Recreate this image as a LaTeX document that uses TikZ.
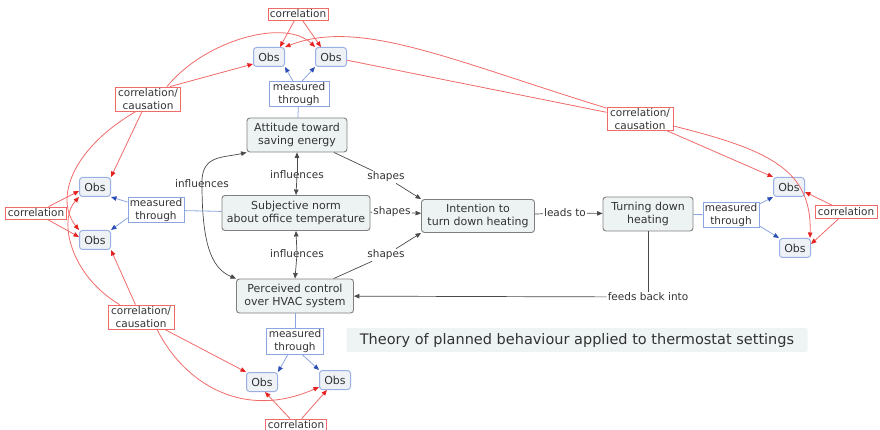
\documentclass[tikz,border=0pt]{standalone}
\usepackage{fontspec}
\setmainfont{DejaVu Sans}
\usetikzlibrary{arrows.meta}
\definecolor{txt}{HTML}{333333}
\definecolor{cfill}{HTML}{EDF3F3}
\definecolor{cdraw}{HTML}{7F7F7F}
\definecolor{ofill}{HTML}{EEF2F7}
\definecolor{odraw}{HTML}{9AB0E2}
\definecolor{rline}{HTML}{F06A6A}
\definecolor{rtip}{HTML}{E52222}
\definecolor{bline}{HTML}{8CA6E0}
\definecolor{btip}{HTML}{2B4FB5}
\definecolor{kline}{HTML}{4A4A4A}
\definecolor{tfill}{HTML}{EEF3F3}
\tikzset{
 sz/.style 2 args={minimum width=#1pt, minimum height=#2pt},
 concept/.style={draw=cdraw, fill=cfill, rounded corners=3pt, line width=0.9pt, text=txt, align=center, inner sep=1pt, font=\fontsize{11}{13.5}\selectfont},
 obs/.style={draw=odraw, fill=ofill, rounded corners=3pt, line width=1pt, text=txt, inner sep=0pt, minimum width=31pt, minimum height=19pt, font=\fontsize{11}{13}\selectfont},
 blink/.style={draw=bline, fill=white, line width=0.8pt, text=txt, align=center, inner sep=0pt, font=\fontsize{10.5}{12.5}\selectfont},
 rlink/.style={draw=rline, fill=white, line width=0.8pt, text=txt, align=center, inner sep=0pt, font=\fontsize{10.5}{12.5}\selectfont},
 lbl/.style={fill=white, text=txt, inner sep=1pt, font=\fontsize{10.5}{12.5}\selectfont},
 olbl/.style={text=txt, inner sep=1pt, font=\fontsize{10.5}{12.5}\selectfont},
 titlebox/.style={fill=tfill, rounded corners=2pt, text=txt, inner sep=0pt, font=\fontsize{14.5}{16}\selectfont},
 kc/.style={draw=kline, line width=0.7pt},
 ka/.style={kc, -{Triangle[length=5.5pt,width=4.5pt]}},
 bc/.style={draw=bline, line width=0.8pt},
 ba/.style={bc, -{Triangle[length=5.5pt,width=4.5pt,color=btip]}},
 rc/.style={draw=rline, line width=0.8pt},
 ra/.style={rc, -{Triangle[length=5.5pt,width=4.5pt,color=rtip]}}
}
\begin{document}
\begin{tikzpicture}[x=1pt,y=-1pt]
\useasboundingbox (0,0) rectangle (880,430);
% concepts
\node[concept, sz={100}{34}] (att) at (297,135) {Attitude toward\\saving energy};
\node[concept, sz={148}{35}] (subj) at (296,213) {Subjective norm\\about office temperature};
\node[concept, sz={117}{34}] (perc) at (295,296) {Perceived control\\over HVAC system};
\node[concept, sz={113}{33}] (int) at (478,216) {Intention to\\turn down heating};
\node[concept, sz={90}{34}] (turn) at (648,214) {Turning down\\heating};
\node[titlebox, sz={461}{24}] (title) at (577,340) {Theory of planned behaviour applied to thermostat settings};
% observations
\node[obs] (oTL) at (269,57) {Obs};
\node[obs] (oTR) at (331,57) {Obs};
\node[obs] (oLU) at (95,187) {Obs};
\node[obs] (oLL) at (95,240) {Obs};
\node[obs] (oRU) at (789,187) {Obs};
\node[obs] (oRL) at (795,248) {Obs};
\node[obs] (oBL) at (262,382) {Obs};
\node[obs] (oBR) at (335,380) {Obs};
% measured through
\node[blink, sz={60}{25}] (mT) at (299,94) {measured\\through};
\node[blink, sz={56}{25}] (mL) at (156,210) {measured\\through};
\node[blink, sz={56}{25}] (mR) at (731,215) {measured\\through};
\node[blink, sz={57}{26}] (mB) at (295,341) {measured\\through};
% correlation
\node[rlink, sz={60}{12}] (cT) at (298,14) {correlation};
\node[rlink, sz={61}{12}] (cL) at (36,213) {correlation};
\node[rlink, sz={62}{13}] (cR) at (846,212) {correlation};
\node[rlink, sz={61}{12}] (cB) at (296,425) {correlation};
\node[rlink, sz={65}{24}] (cc1) at (148,99) {correlation/\\causation};
\node[rlink, sz={66}{23}] (cc2) at (640,119) {correlation/\\causation};
\node[rlink, sz={66}{24}] (cc3) at (141,317) {correlation/\\causation};
% linking phrases
\node[olbl] (i1) at (297,175) {influences};
\node[olbl] (i2) at (297,254) {influences};
\node[olbl] (i3) at (202,184) {influences};
\node[lbl] (s1) at (386,177) {shapes};
\node[lbl] (s2) at (392,212) {shapes};
\node[lbl] (s3) at (386,255) {shapes};
\node[lbl] (lt) at (565,213) {leads to};
\node[lbl] (fb) at (648,297) {feeds back into};
% black connectors
\draw[ka] (i1.center) -- (att.south);
\draw[ka] (i1.center) -- (subj.north);
\draw[ka] (i2.center) -- (subj.south);
\draw[ka] (i2.center) -- (perc.north);
\draw[ka] (i3.center) .. controls (201,155) and (222,158) .. (att.south west);
\draw[ka] (i3.center) .. controls (202,240) and (210,268) .. (perc.north west);
\draw[kc] (att) -- (s1);
\draw[ka] (s1) -- (int.north west);
\draw[kc] (subj) -- (s2);
\draw[ka] (s2) -- (int);
\draw[kc] (perc) -- (s3);
\draw[ka] (s3) -- (int.south west);
\draw[kc] (int) -- (lt);
\draw[ka] (lt) -- (turn);
\draw[kc] (turn) -- (fb);
\draw[ka] (fb) -- (perc);
% blue connectors
\draw[bc] (att) -- (mT);
\draw[ba] ([xshift=-6pt]mT.north) -- (oTL.south east);
\draw[ba] ([xshift=3pt]mT.north) -- (oTR.south west);
\draw[bc] (subj) -- (mL);
\draw[ba] ([yshift=-5pt]mL.north west) -- (oLU.south east);
\draw[ba] ([yshift=5pt]mL.south west) -- (oLL.north east);
\draw[bc] (turn) -- (mR);
\draw[ba] ([yshift=-2pt]mR.north east) -- (oRU.south west);
\draw[ba] ([yshift=2pt]mR.south east) -- (oRL.north west);
\draw[bc] (perc) -- (mB);
\draw[ba] ([xshift=-7pt]mB.south) -- (oBL.north east);
\draw[ba] ([xshift=7pt]mB.south) -- (oBR.north west);
% red connectors
\draw[ra] (cT) -- ([xshift=-5pt]oTL.north east);
\draw[ra] (cT) -- ([xshift=6pt]oTR.north west);
\draw[ra] (cB) -- ([xshift=3pt]oBL.south);
\draw[ra] (cB) -- ([xshift=-8pt]oBR.south);
\draw[ra] (cL) -- ([yshift=6pt]oLU.south west);
\draw[ra] (cL) -- ([yshift=-7pt]oLL.north west);
\draw[ra] (cR) -- ([yshift=5pt]oRU.south east);
\draw[ra] (cR) -- ([yshift=-6pt]oRL.north east);
\draw[ra] ([xshift=-11pt]cc1.north east) -- ([yshift=3pt]oTL.south west);
\draw[ra] ([xshift=-14pt]cc1.north east) .. controls (205,40) and (285,18) .. (oTR.north west);
\draw[ra] (cc1) -- (oLU.north east);
\draw[ra] ([xshift=-12pt]cc1.south) .. controls (70,150) and (55,200) .. (oLL.north west);
\draw[ra] (cc3) -- (oLL.south east);
\draw[ra] ([xshift=12pt]cc3.north west) .. controls (70,275) and (58,220) .. (oLU.south west);
\draw[ra] (cc3) -- (oBL.north west);
\draw[ra] ([xshift=16pt]cc3.south) .. controls (185,385) and (245,420) .. ([yshift=3pt]oBR.south west);
\draw[rc] (oTR) -- (cc2);
\draw[ra] ([yshift=-1pt]cc2.north west) .. controls (450,60) and (360,18) .. (oTL.north east);
\draw[ra] (cc2) -- (oRU.north west);
\draw[ra] ([yshift=-7pt]cc2.east) .. controls (770,150) and (812,170) .. ([xshift=-1pt]oRL.north east);
\end{tikzpicture}
\end{document}
